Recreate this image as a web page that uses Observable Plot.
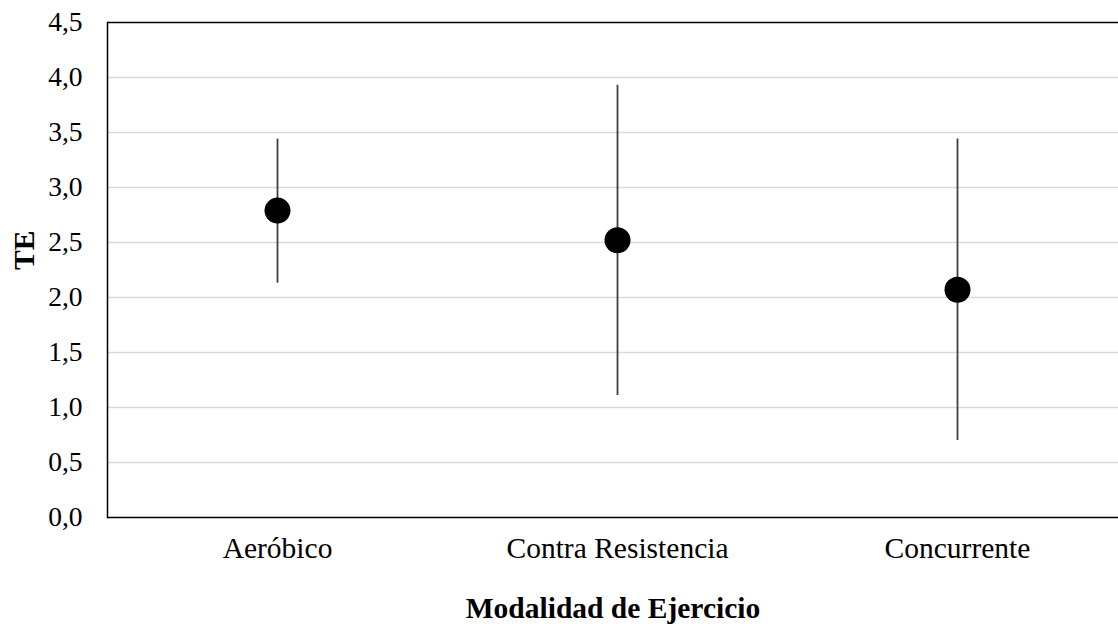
<!DOCTYPE html>
<html>
<head>
<meta charset="utf-8">
<script src="https://cdn.jsdelivr.net/npm/d3@7"></script>
<script src="https://cdn.jsdelivr.net/npm/@observablehq/plot@0.6"></script>
<style>
  html, body { margin: 0; padding: 0; background: #fff; }
  #chart svg { display: block; }
</style>
</head>
<body>
<div id="chart"></div>
<script>
const categories = ["Aeróbico", "Contra Resistencia", "Concurrente"];
const means = [2.79, 2.52, 2.07];
const lower = [2.13, 1.11, 0.70];
const upper = [3.44, 3.93, 3.44];
const yTicks = [0, 0.5, 1, 1.5, 2, 2.5, 3, 3.5, 4, 4.5];
const xTitle = "Modalidad de Ejercicio";
const yTitle = "TE";

const data = categories.map((c, i) => ({cat: c, mean: means[i], lo: lower[i], hi: upper[i]}));
const fmt = d => d.toFixed(1).replace(".", ",");

const chart = Plot.plot({
  width: 1118,
  height: 628,
  marginLeft: 107,
  marginRight: 0,
  marginTop: 22,
  marginBottom: 111,
  style: {fontFamily: "'Liberation Serif', 'Times New Roman', serif", fontSize: "27px", color: "#000", background: "#fff"},
  x: {type: "point", domain: categories, range: [107, 1127], padding: 0.5},
  y: {domain: [0, 4.5]},
  marks: [
    Plot.gridY(yTicks.filter(d => d > 0 && d < 4.5), {stroke: "#d9d9d9", strokeOpacity: 1, strokeWidth: 1.5}),
    Plot.ruleY([0, 4.5], {stroke: "#000", strokeWidth: 1.5}),
    Plot.frame({anchor: "left", stroke: "#000", strokeWidth: 1.5}),
    Plot.axisY(yTicks, {tickSize: 0, tickPadding: 25, tickFormat: fmt, label: null, fontSize: 27.5}),
    Plot.axisX({tickSize: 0, tickPadding: 20, label: null, fontSize: 29.5}),
    Plot.ruleX(data, {x: "cat", y1: "lo", y2: "hi", stroke: "#404040", strokeWidth: 1.8}),
    Plot.dot(data, {x: "cat", y: "mean", r: 13, fill: "#000", stroke: "none"}),
    Plot.text([xTitle], {frameAnchor: "bottom", dy: 91, lineAnchor: "middle", fontWeight: "bold", fontSize: 29.5, fill: "#000"}),
    Plot.text([yTitle], {frameAnchor: "left", dx: -83, rotate: -90, lineAnchor: "middle", fontWeight: "bold", fontSize: 29.5, fill: "#000"})
  ]
});
document.getElementById("chart").appendChild(chart);
</script>
</body>
</html>
